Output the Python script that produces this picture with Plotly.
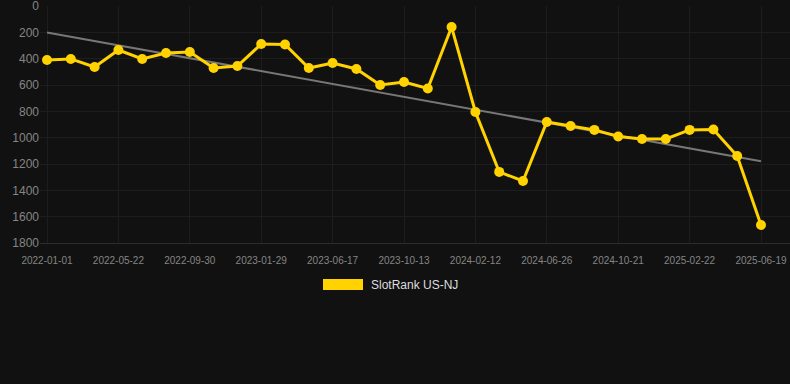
import numpy as np
import plotly.graph_objects as go

# ---- data ----
tick_dates = ["2022-01-01", "2022-05-22", "2022-09-30", "2023-01-29", "2023-06-17",
              "2023-10-13", "2024-02-12", "2024-06-26", "2024-10-21", "2025-02-22",
              "2025-06-19"]
rank = [410, 402, 463, 334, 402, 357, 349, 471, 456, 289,
        292, 471, 433, 478, 600, 577, 626, 160, 805, 1260,
        1329, 881, 911, 941, 991, 1010, 1010, 941, 938, 1139,
        1663]
y_ticks = [0, 200, 400, 600, 800, 1000, 1200, 1400, 1600, 1800]
series_name = "SlotRank US-NJ"

idx = np.arange(len(rank))
tick_idx = list(range(0, len(rank), 3))

# linear trend from the data
slope, intercept = np.polyfit(idx, rank, 1)
trend = slope * idx + intercept

YELLOW = "#FFD200"
BG = "#111111"
GRID = "#1d1d1d"
TICK = "#858585"
FONT = "Arial, Liberation Sans, sans-serif"

fig = go.Figure()
fig.add_trace(go.Scatter(
    x=idx, y=trend, mode="lines",
    line=dict(color="#777777", width=2),
    showlegend=False, hoverinfo="skip"))
fig.add_trace(go.Scatter(
    x=idx, y=rank, mode="lines+markers", name=series_name,
    line=dict(color=YELLOW, width=3),
    marker=dict(color=YELLOW, size=10),
    showlegend=False))

# legend (Chart.js-style box)
fig.add_shape(type="rect", xref="paper", yref="paper",
              x0=(323 - 40) / 750, x1=(363 - 40) / 750,
              y0=(243 - 290) / 237, y1=(243 - 279) / 237,
              fillcolor=YELLOW, line=dict(width=0))
fig.add_annotation(xref="paper", yref="paper",
                   x=(369 - 40) / 750, y=(243 - 284.5) / 237,
                   xanchor="left", yanchor="middle", showarrow=False,
                   text=series_name, font=dict(family=FONT, size=12, color="#dddddd"))

fig.update_layout(
    width=790, height=384,
    paper_bgcolor=BG, plot_bgcolor=BG,
    margin=dict(l=40, r=0, t=6, b=141),
    font=dict(family=FONT, color=TICK),
    xaxis=dict(
        range=[-7 / 23.8, 30 + 29 / 23.8],
        tickmode="array", tickvals=tick_idx, ticktext=tick_dates,
        tickfont=dict(size=10, color=TICK),
        showgrid=True, gridcolor=GRID, gridwidth=1,
        zeroline=False, showline=True, linecolor="#2c2c2c", linewidth=1,
        ticks="", ticklabelstandoff=8,
    ),
    yaxis=dict(
        range=[1800, 0], tickmode="array", tickvals=y_ticks,
        tickfont=dict(size=12, color=TICK),
        showgrid=True, gridcolor=GRID, gridwidth=1,
        zeroline=False, showline=False, ticks="",
        ticklabeloverflow="allow",
    ),
)

fig.write_html(
    "out.html",
    config={"displayModeBar": False},
    post_script="document.body.style.margin='0';document.body.style.background='#111111';",
)
